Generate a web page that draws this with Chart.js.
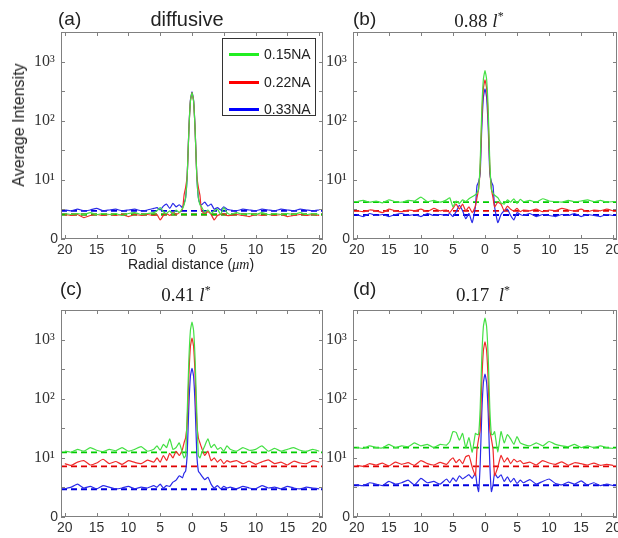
<!DOCTYPE html>
<html lang="en">
<head>
<meta charset="UTF-8" />
<title>Average Intensity - radial profiles</title>
<script src="https://cdn.jsdelivr.net/npm/chart.js"></script>
<style>
  body { margin: 0; background: #fff; }
  #fig { position: relative; width: 618px; height: 538px; overflow: hidden;
         font-family: "Liberation Sans", Arial, sans-serif; color: #222; background: #fff; }
  #fig canvas { position: absolute; }
  .txt { position: absolute; white-space: nowrap; line-height: 1; }
  .serif { font-family: "Liberation Serif", "DejaVu Serif", serif; }
  .ctr { transform: translateX(-50%); }
  #legend { position: absolute; background: #fff; border: 1px solid #333; box-sizing: border-box; }
  #legend .row { position: absolute; left: 0; height: 16px; line-height: 16px; font-size: 14px; }
  #legend .sw { position: absolute; left: 6px; top: 7px; width: 30px; height: 3px; }
  #legend .lb { position: absolute; left: 41px; top: 0; }
</style>
</head>
<body>
<div id="fig">
  <canvas id="chartA" width="330" height="262" style="left:0;top:0"></canvas>
  <canvas id="chartB" width="296" height="262" style="left:322px;top:0"></canvas>
  <canvas id="chartC" width="330" height="276" style="left:0;top:262px"></canvas>
  <canvas id="chartD" width="296" height="276" style="left:322px;top:262px"></canvas>

  <div class="txt" style="left:58px;top:9px;font-size:19px">(a)</div>
  <div class="txt ctr" style="left:187px;top:9px;font-size:20px">diffusive</div>
  <div class="txt" style="left:353px;top:9px;font-size:19px">(b)</div>
  <div class="txt ctr serif" style="left:479px;top:10px;font-size:19px">0.88 <i>l</i><sup style="font-size:12px">*</sup></div>
  <div class="txt" style="left:60px;top:279px;font-size:19px">(c)</div>
  <div class="txt ctr serif" style="left:186px;top:284px;font-size:19px">0.41 <i>l</i><sup style="font-size:12px">*</sup></div>
  <div class="txt" style="left:353px;top:279px;font-size:19px">(d)</div>
  <div class="txt ctr serif" style="left:483px;top:284px;font-size:19px">0.17&nbsp; <i>l</i><sup style="font-size:12px">*</sup></div>

  <div class="txt" style="left:19px;top:125px;font-size:16px;transform:translate(-50%,-50%) rotate(-90deg)">Average Intensity</div>
  <div class="txt ctr" style="left:191px;top:257px;font-size:14px">Radial distance (<i class="serif">μm</i>)</div>

  <div id="legend" style="left:222px;top:38px;width:94px;height:78px">
    <div class="row" style="top:7px"><span class="sw" style="background:#22ee22"></span><span class="lb">0.15NA</span></div>
    <div class="row" style="top:35px"><span class="sw" style="background:#ff0000"></span><span class="lb">0.22NA</span></div>
    <div class="row" style="top:62px"><span class="sw" style="background:#0000ff"></span><span class="lb">0.33NA</span></div>
  </div>
</div>

<script>
// radial positions (um) shared by every profile
const xs = [-20,-19,-18,-17,-16,-15,-14,-13,-12,-11,-10,-9,-8,-7,-6,
  -5.5,-5,-4.5,-4,-3.5,-3,-2.5,-2,-1.5,
  -1.25,-1,-0.75,-0.5,-0.25,0,0.25,0.5,0.75,1,1.25,
  1.5,2,2.5,3,3.5,4,4.5,5,5.5,
  6,7,8,9,10,11,12,13,14,15,16,17,18,19,20];

const xMin = -20.6, xMax = 20.6;
const xTicks = [-20,-15,-10,-5,0,5,10,15,20];
const yMin = 1, yMax = 3200;
const yTicks = [1, 10, 100, 1000];
const yTickLabels = ['0', '10¹\u2009', '10²\u2009', '10³\u2009'];
const yMinorTicks = [3.162, 31.62, 316.2];

const seriesNames = ['0.15NA', '0.22NA', '0.33NA'];

// (a) diffusive
const aGreen = [2.7,2.6,2.7,2.6,2.8,2.6,2.7,2.6,2.7,2.5,2.7,2.8,2.6,2.7,2.8,
  3.0,3.4,2.9,2.7,3.0,2.6,3.1,2.8,3.3,
  3.8,5,12,66,215,300,215,66,12,5,3.8,
  3.5,2.8,3.1,2.7,3.0,3.2,2.6,3.4,2.8,
  2.6,2.8,2.6,2.7,2.6,2.8,2.6,2.7,2.6,2.7,2.6,2.8,2.6,2.7,2.6];
const aRed = [2.6,2.5,2.6,2.3,2.5,2.6,2.5,2.6,2.5,2.6,2.4,2.6,2.5,2.6,2.5,
  2.6,2.1,2.5,2.7,2.5,2.8,2.6,2.8,3.2,
  5.5,7.5,12,66,215,300,215,66,12,7.5,5.5,
  3.0,2.7,2.9,2.6,2.1,2.5,2.6,2.7,2.5,
  2.5,2.6,2.5,2.4,2.6,2.5,2.6,2.5,2.6,2.4,2.5,2.6,2.5,2.6,2.5];
const aBlue = [3.1,3.0,3.2,3.0,3.1,3.3,3.0,3.1,3.2,3.0,3.1,3.2,3.0,3.1,3.3,
  3.4,3.1,3.6,3.9,3.3,4.0,3.5,3.8,3.4,
  4.0,5,12,68,223,310,223,68,12,5,4.0,
  3.8,4.2,3.6,3.9,3.2,3.4,3.1,3.5,3.2,
  3.1,3.0,3.2,3.1,3.0,3.2,3.1,3.0,3.2,3.1,3.0,3.2,3.1,3.0,3.1];
const aBase = [2.6, 2.6, 3.0];

// (b) 0.88 l*
const bGreen = [4.3,4.5,4.2,4.4,4.1,4.6,4.3,4.2,4.5,4.4,5.1,4.3,4.5,4.2,4.6,
  5.0,3.5,4.4,4.0,4.6,4.3,4.8,5.2,5.6,
  6,7,20,155,510,710,510,155,20,7,6,
  5.5,5.0,4.1,3.9,4.6,4.2,4.8,4.0,4.7,
  4.3,4.5,4.2,4.8,4.4,4.3,4.2,4.5,4.3,4.4,4.6,4.3,4.5,4.2,4.3];
const bRed = [3.0,2.9,3.1,3.0,2.8,3.2,3.0,2.9,3.1,3.0,3.2,2.9,3.3,3.0,3.1,
  2.8,3.3,3.9,3.2,3.9,3.0,3.5,2.8,3.6,
  5,7,16,110,355,495,355,110,16,7,5,
  3.5,4.2,3.9,3.0,3.6,3.2,3.0,3.3,2.9,
  3.1,3.0,3.2,2.9,3.1,3.0,3.3,3.1,3.0,3.2,2.9,3.1,3.0,3.2,3.0];
const bBlue = [2.6,2.4,2.7,2.5,2.6,2.4,2.6,2.7,2.5,2.6,2.4,2.7,2.5,2.6,2.5,
  2.7,2.4,2.9,3.7,3.0,2.2,2.7,1.9,3.5,
  8,9.3,13,77,250,350,250,77,13,9.3,8,
  3.5,1.9,2.6,3.0,3.2,2.5,2.1,2.8,2.6,
  2.5,2.7,2.4,2.6,2.5,2.4,2.6,2.5,2.7,2.4,2.6,2.5,2.4,2.6,2.5];
const bBase = [4.2, 3.0, 2.55];

// (c) 0.41 l*
const cGreen = [13,12.5,14,13,15,13.5,12.8,14,13.2,15,13,14,15.5,13,14,
  16,13.5,17,15,21,14,15,18,12,
  10,11,60,440,1440,2000,1440,440,60,11,10,
  12,16,21,15,17,14,15,13,16,
  14,13,15,13.5,14,16,13,14.5,13,14,15,13.5,13,14,13];
const cRed = [8,7.5,8.5,9,7.6,8.2,9.5,8,8.7,7.8,9,8.4,8,9.2,8.5,
  10,8.5,11,9,12,10,13,11,14,
  18,22,40,235,770,1070,770,235,40,22,18,
  15,11,13,9,10,8.5,9.5,8,9,
  8.5,9,8,8.8,7.8,8.6,9.3,8,8.5,7.6,8.8,8.2,8,9,8.5];
const cBlue = [3.0,3.2,3.6,3.1,3.3,3.0,3.4,3.2,3.0,3.1,3.3,3.0,3.2,3.1,3.4,
  3.2,3.6,3.1,3.4,3.3,3.9,4.2,5.0,4.6,
  5.5,6,12,73,240,330,240,73,12,6,5.5,
  5.0,4.3,4.7,3.6,3.1,3.4,3.0,3.3,3.1,
  3.2,3.0,3.3,3.1,3.0,3.4,3.1,3.2,3.0,3.3,3.1,3.0,3.2,3.1,3.0];
const cBase = [12.4, 7.2, 2.95];

// (d) 0.17 l*
const dGreen = [15,14.5,16,15,14.8,17,15,16,15.5,18,16,17,15,17,16.5,
  19,28,27,20,26,15,22,12.5,26,
  25,25,70,510,1680,2330,1680,510,70,25,25,
  28,12.5,28,18,25,21,17,23,18,
  17,16,18,16,19,17,16,15.5,17,15,16,15,16,15,14.5];
const dRed = [7.5,7.2,8,7.6,8.2,7.3,8.5,7.8,8.3,7.5,9,8,7.6,8.4,7.8,
  9,10,8.3,9.5,8,10.5,11,7,5,
  14,21,30,200,660,920,660,200,30,21,14,
  5,7,11,8.5,10,8,9.5,8.6,9,
  8,8.5,7.6,9,8.2,7.8,8.6,7.5,8.3,8,7.6,8.2,7.5,7.8,7.5];
const dBlue = [3.5,3.4,3.8,3.6,3.4,4.0,3.6,3.8,4.2,3.5,4.5,3.8,4.0,3.6,4.4,
  3.8,4.6,4.0,5.0,4.4,4.8,5.2,4.5,5.5,
  3.5,2.7,8,58,190,263,190,58,8,2.7,3.5,
  5.5,4.6,5.2,4.0,4.8,3.9,4.5,3.7,4.2,
  3.8,4.3,3.6,4.0,4.4,3.7,3.5,3.9,3.6,4.1,3.5,3.8,3.4,3.6,3.4];
const dBase = [15, 7.2, 3.45];

const lineColors = ['#44e044', '#f02a2a', '#2a2ae8'];
const dashColors = ['#00cc00', '#e00000', '#0000e0'];

// frame box + inward tick marks on all four sides
const frameTicks = {
  id: 'frameTicks',
  afterDraw(chart) {
    const { ctx, chartArea: a } = chart;
    const x = chart.scales.x, y = chart.scales.y;
    ctx.save();
    ctx.strokeStyle = '#808080';
    ctx.lineWidth = 1;
    ctx.strokeRect(a.left + 0.5, a.top + 0.5, a.right - a.left - 1, a.bottom - a.top - 1);
    ctx.beginPath();
    xTicks.forEach(v => {
      const px = Math.round(x.getPixelForValue(v)) + 0.5;
      ctx.moveTo(px, a.bottom); ctx.lineTo(px, a.bottom - 4);
      ctx.moveTo(px, a.top); ctx.lineTo(px, a.top + 4);
    });
    yTicks.concat(yMinorTicks).forEach(v => {
      const py = Math.round(y.getPixelForValue(v)) + 0.5;
      ctx.moveTo(a.left, py); ctx.lineTo(a.left + 4, py);
      ctx.moveTo(a.right, py); ctx.lineTo(a.right - 4, py);
    });
    ctx.stroke();
    ctx.restore();
  }
};

function makePanel(id, curves, bases, fit) {
  const datasets = [];
  curves.forEach((arr, k) => {
    datasets.push({
      label: seriesNames[k],
      data: xs.map((x, i) => ({ x: x, y: arr[i] })),
      borderColor: lineColors[k],
      borderWidth: 1.2,
      pointRadius: 0,
      tension: 0.15
    });
  });
  bases.forEach((b, k) => {
    datasets.push({
      label: seriesNames[k] + ' mean',
      data: [{ x: xMin, y: b }, { x: xMax, y: b }],
      borderColor: dashColors[k],
      borderWidth: 1.8,
      borderDash: [6, 4],
      pointRadius: 0
    });
  });

  new Chart(document.getElementById(id), {
    type: 'line',
    data: { datasets: datasets },
    options: {
      responsive: false,
      animation: false,
      layout: { padding: fit.pad },
      plugins: { legend: { display: false }, tooltip: { enabled: false } },
      scales: {
        x: {
          type: 'linear', min: xMin, max: xMax,
          grid: { display: false, drawTicks: false }, border: { display: false },
          afterBuildTicks: s => { s.ticks = xTicks.map(v => ({ value: v })); },
          afterFit: s => { s.height = fit.xh; s.paddingLeft = 0; s.paddingRight = 0; },
          ticks: {
            autoSkip: false, maxRotation: 0, padding: 3, color: '#333',
            font: { family: 'Liberation Sans', size: 14 },
            callback: v => String(Math.abs(v))
          }
        },
        y: {
          type: 'logarithmic', min: yMin, max: yMax,
          grid: { display: false, drawTicks: false }, border: { display: false },
          afterBuildTicks: s => { s.ticks = yTicks.map(v => ({ value: v })); },
          afterFit: s => { s.width = fit.yw; s.paddingTop = 0; s.paddingBottom = 0; },
          ticks: {
            autoSkip: false, padding: 3, color: '#333',
            font: ctx => (ctx.tick && ctx.tick.value === 1)
              ? { family: 'Liberation Sans', size: 14 }
              : { family: 'Liberation Serif', size: 16 },
            callback: v => yTickLabels[yTicks.indexOf(v)] || ''
          }
        }
      }
    },
    plugins: [frameTicks]
  });
}

makePanel('chartA', [aGreen, aRed, aBlue], aBase, { pad: { left: 0, top: 32, right: 7, bottom: 0 }, yw: 61, xh: 23 });
makePanel('chartB', [bGreen, bRed, bBlue], bBase, { pad: { left: 0, top: 32, right: 1, bottom: 0 }, yw: 31, xh: 23 });
makePanel('chartC', [cGreen, cRed, cBlue], cBase, { pad: { left: 0, top: 48, right: 7, bottom: 0 }, yw: 61, xh: 21 });
makePanel('chartD', [dGreen, dRed, dBlue], dBase, { pad: { left: 0, top: 48, right: 1, bottom: 0 }, yw: 31, xh: 21 });
</script>
</body>
</html>
